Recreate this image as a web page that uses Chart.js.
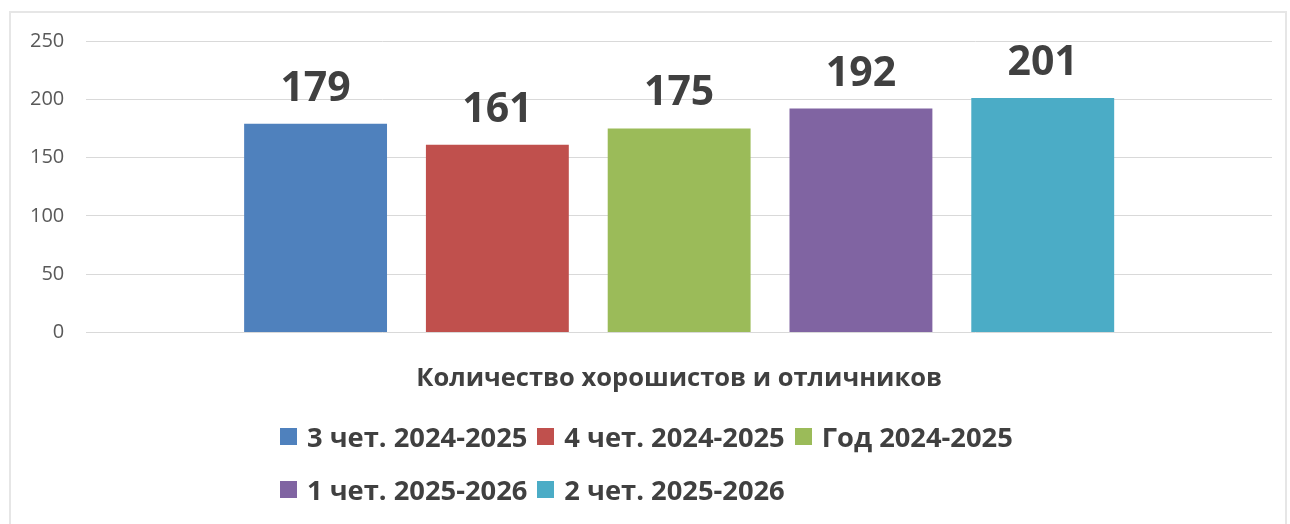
<!DOCTYPE html>
<html lang="ru">
<head>
<meta charset="utf-8">
<title>Количество хорошистов и отличников</title>
<script src="https://cdn.jsdelivr.net/npm/chart.js@4.4.1/dist/chart.umd.min.js"></script>
<style>
  html, body { margin: 0; padding: 0; background: #fff; }
  body { width: 1290px; height: 524px; position: relative; overflow: hidden; font-family: "Open Sans", sans-serif; }
  .frame { position: absolute; left: 9px; top: 11px; width: 1274px; height: 600px; border: 2px solid #e6e6e6; }
  .chart-box { position: absolute; left: 0; top: 0; width: 1290px; height: 442px; }
  #legend { position: absolute; left: 280px; top: 410px; width: 770px; }
  #legend ul { list-style: none; margin: 0; padding: 0; display: flex; flex-wrap: wrap; }
  #legend li { display: flex; align-items: center; height: 53px; margin-right: 10px; color: #404040; font-weight: 700; font-size: 27.3px; white-space: nowrap; }
  #legend li span.box { display: inline-block; width: 17px; height: 17px; margin-right: 10px; }
</style>
</head>
<body>
<div class="frame"></div>
<div class="chart-box"><canvas id="chart"></canvas></div>
<div id="legend"></div>
<script>
const categories = ["Количество хорошистов и отличников"];
const seriesNames = ["3 чет. 2024-2025", "4 чет. 2024-2025", "Год 2024-2025", "1 чет. 2025-2026", "2 чет. 2025-2026"];
const seriesValues = [179, 161, 175, 192, 201];
const seriesColors = ["#4f81bd", "#c0504d", "#9bbb59", "#8064a2", "#4bacc6"];
const yMax = 250;
const yStep = 50;

// value labels above each bar
const barLabels = {
  id: "barLabels",
  afterDatasetsDraw(chart) {
    const ctx = chart.ctx;
    ctx.save();
    ctx.font = "bold 41px 'Open Sans'";
    ctx.fillStyle = "#404040";
    ctx.textAlign = "center";
    ctx.textBaseline = "alphabetic";
    chart.data.datasets.forEach((ds, i) => {
      chart.getDatasetMeta(i).data.forEach((bar, j) => {
        ctx.fillText(ds.data[j], bar.x, bar.y - 23);
      });
    });
    ctx.restore();
  },
};

// legend rendered as html under the chart
const htmlLegend = {
  id: "htmlLegend",
  afterUpdate(chart) {
    const box = document.getElementById("legend");
    const items = chart.options.plugins.legend.labels.generateLabels(chart);
    const ul = document.createElement("ul");
    items.forEach((item) => {
      const li = document.createElement("li");
      const sw = document.createElement("span");
      sw.className = "box";
      sw.style.background = item.fillStyle;
      li.appendChild(sw);
      li.appendChild(document.createTextNode(item.text));
      ul.appendChild(li);
    });
    box.innerHTML = "";
    box.appendChild(ul);
  },
};

const ctx = document.getElementById("chart").getContext("2d");
new Chart(ctx, {
  type: "bar",
  data: {
    labels: categories,
    datasets: seriesNames.map((name, i) => ({
      label: name,
      data: [seriesValues[i]],
      backgroundColor: seriesColors[i],
      categoryPercentage: 0.7666,
      barPercentage: 0.786,
    })),
  },
  options: {
    responsive: true,
    maintainAspectRatio: false,
    animation: false,
    layout: { padding: { left: 8, right: 18, top: 41, bottom: 17 } },
    plugins: {
      legend: { display: false },
      tooltip: { enabled: false },
    },
    scales: {
      x: {
        grid: { display: false, drawTicks: false },
        border: { display: false },
        ticks: {
          padding: 31,
          color: "#404040",
          font: { family: "'Open Sans'", size: 25.5, weight: "bold" },
        },
      },
      y: {
        min: 0,
        max: yMax,
        grid: { color: "#d9d9d9", lineWidth: 1, drawTicks: false },
        border: { display: false },
        ticks: {
          stepSize: yStep,
          padding: 22,
          color: "#595959",
          font: { family: "'Open Sans'", size: 20 },
        },
      },
    },
  },
  plugins: [barLabels, htmlLegend],
});
</script>
</body>
</html>
